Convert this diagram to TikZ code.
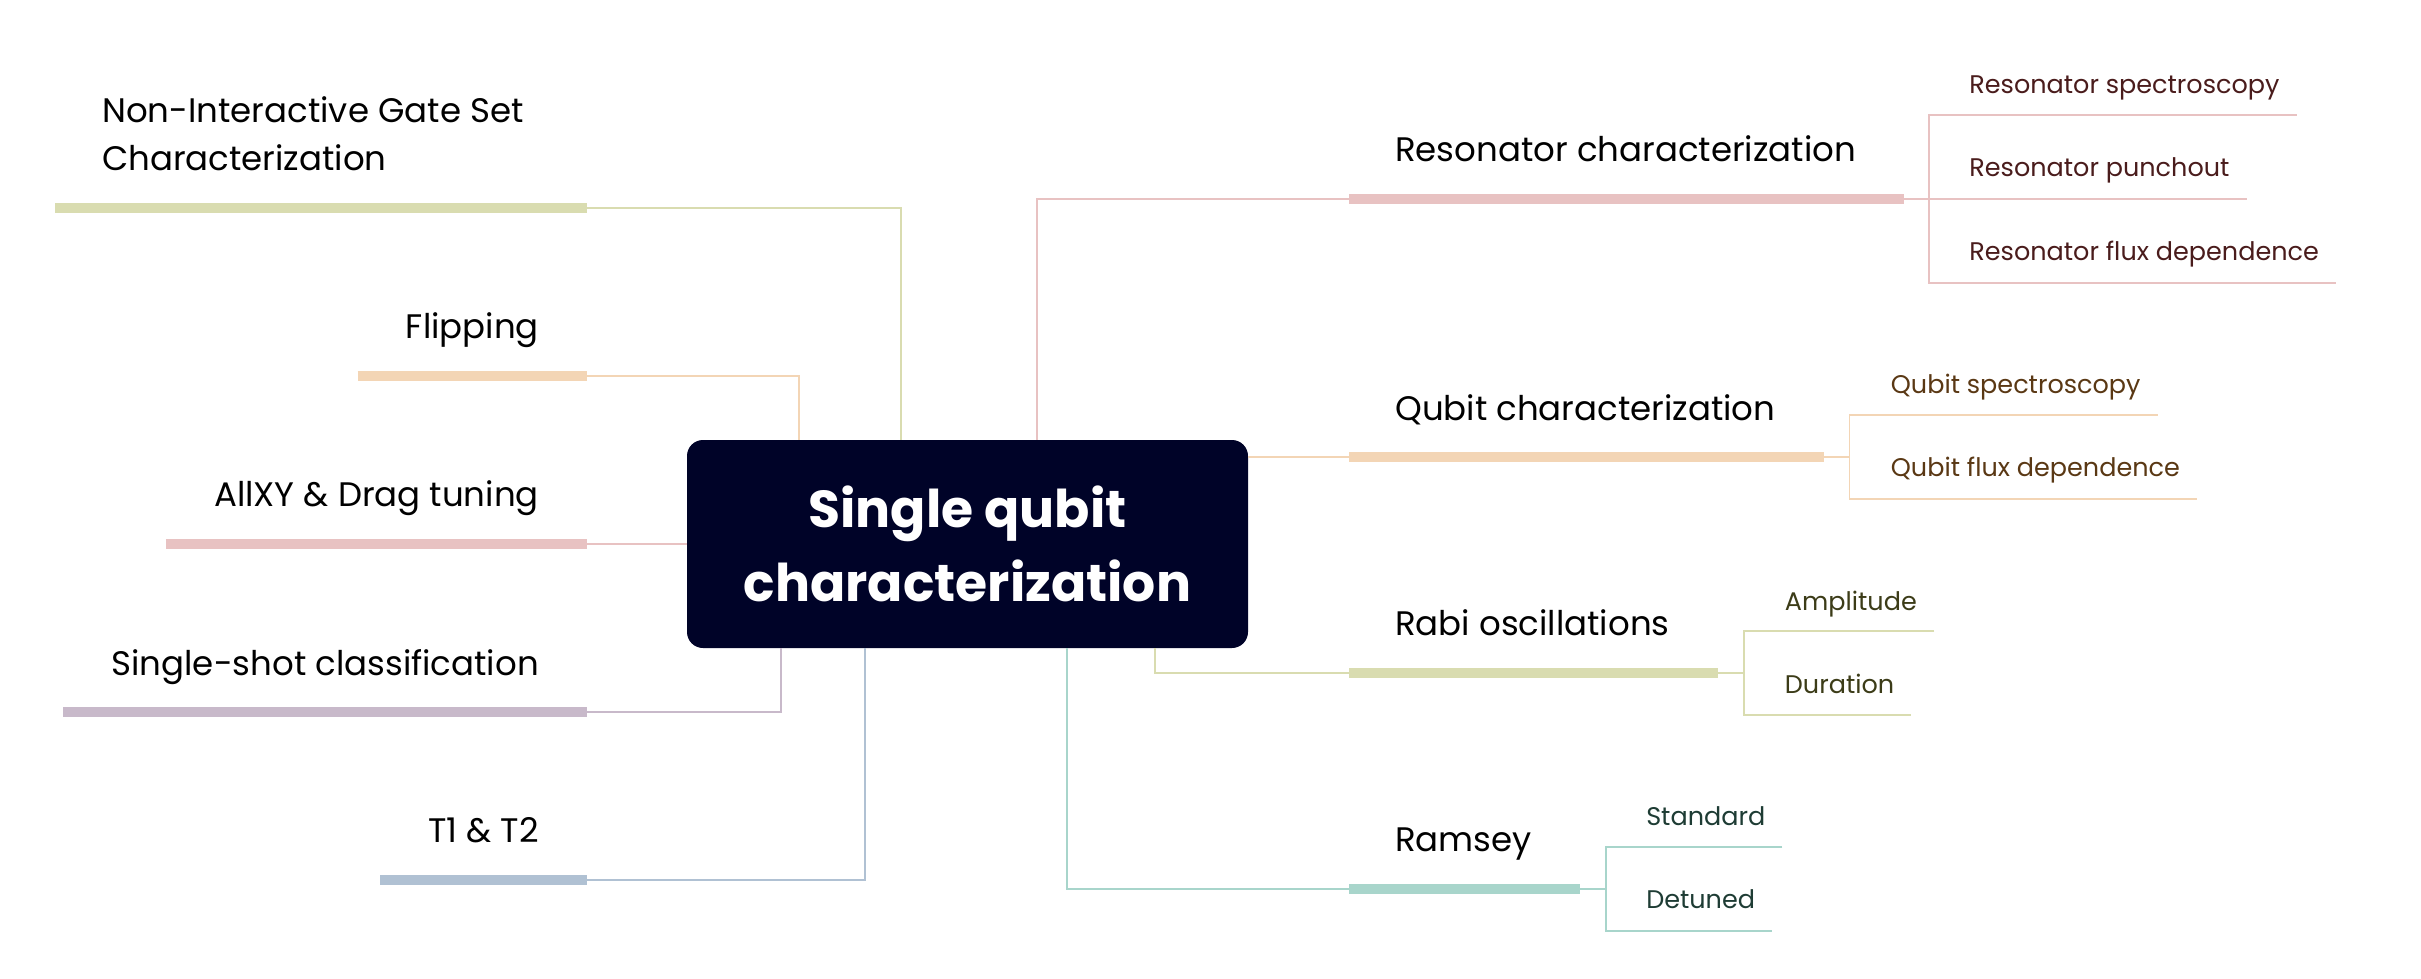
\documentclass[tikz,border=0pt]{standalone}
\usepackage{fontspec}
\setmainfont{Poppins}
\usetikzlibrary{calc}
\definecolor{cgreen}{HTML}{D9DCB0}
\definecolor{cpeach}{HTML}{F3D5B5}
\definecolor{cpink}{HTML}{E8C2C2}
\definecolor{cpurple}{HTML}{C8B9CA}
\definecolor{cblue}{HTML}{B0C1D3}
\definecolor{cteal}{HTML}{A8D5CB}
\definecolor{navy}{HTML}{000328}
\definecolor{tpink}{HTML}{4A1C1C}
\definecolor{tpeach}{HTML}{5A3814}
\definecolor{tgreen}{HTML}{3C3C18}
\definecolor{tteal}{HTML}{1E3C34}
\begin{document}
\begin{tikzpicture}[x=1pt,y=-1pt,
  branch/.style={font=\fontsize{34}{48}\selectfont, inner sep=0pt, text=black},
  leaf/.style={font=\fontsize{25.5}{28}\selectfont, inner sep=0pt, anchor=base west},
  bar/.style={line width=9.5pt, line cap=butt},
  conn/.style={line width=1.6pt},
  centre/.style={fill=navy, rounded corners=16pt, minimum width=561pt, minimum height=208pt,
    text=white, font=\bfseries\fontsize{52}{74}\selectfont, align=center, inner sep=0pt}]
\useasboundingbox (0,0) rectangle (2421,979);
\fill[white] (0,0) rectangle (2421,979);

% centre
\node[centre] (c) at (967.5,544) {Single qubit\\characterization};

% ---------- left side ----------
\node[branch, anchor=base west, align=left] (nig) at (102,170.7) {Non-Interactive Gate Set\\Characterization};
\coordinate (nigE) at (587,208);
\draw[bar,cgreen] (55,208) -- (nigE);
\draw[conn,cgreen] (nigE) -| (c.north -| 901,0);

\node[branch, anchor=base east] (flip) at (539,338) {Flipping};
\coordinate (flipE) at (587,376);
\draw[bar,cpeach] ([xshift=-48pt]flip.west |- flipE) -- (flipE);
\draw[conn,cpeach] (flipE) -| (c.north -| 799,0);

\node[branch, anchor=base east] (allxy) at (539,506.7) {AllXY \& Drag tuning};
\coordinate (allE) at (587,544);
\draw[bar,cpink] ([xshift=-48pt]allxy.west |- allE) -- (allE);
\draw[conn,cpink] (allE) -- (c.west |- allE);

\node[branch, anchor=base east] (ss) at (539,675) {Single-shot classification};
\coordinate (ssE) at (587,712);
\draw[bar,cpurple] ([xshift=-48pt]ss.west |- ssE) -- (ssE);
\draw[conn,cpurple] (ssE) -| (c.south -| 781,0);

\node[branch, anchor=base east] (t12) at (539,842.7) {T1 \& T2};
\coordinate (t12E) at (587,880);
\draw[bar,cblue] ([xshift=-48pt]t12.west |- t12E) -- (t12E);
\draw[conn,cblue] (t12E) -| (c.south -| 865,0);

% ---------- right side ----------
% Resonator
\node[branch, anchor=base west] (res) at (1395,161.7) {Resonator characterization};
\coordinate (resW) at (1349,199);
\coordinate (resE) at ([xshift=48pt]res.east |- resW);
\coordinate (resJ) at ([xshift=25pt]resE);
\draw[conn,cpink] (c.north -| 1037,0) |- (resW);
\draw[bar,cpink] (resW) -- (resE);
\draw[conn,cpink] (resE) -- (resJ);
\node[leaf, text=tpink] (r1) at ([xshift=40pt]resJ |- 0,93.3) {Resonator spectroscopy};
\node[leaf, text=tpink] (r2) at ([xshift=40pt]resJ |- 0,176.7) {Resonator punchout};
\node[leaf, text=tpink] (r3) at ([xshift=40pt]resJ |- 0,260) {Resonator flux dependence};
\draw[conn,cpink] ([xshift=17pt]r1.east |- 0,115) -| (resJ |- 0,283) -- ([xshift=17pt]r3.east |- 0,283);
\draw[conn,cpink] (resJ) -- ([xshift=17pt]r2.east |- resJ);

% Qubit
\node[branch, anchor=base west] (qb) at (1395,420) {Qubit characterization};
\coordinate (qbW) at (1349,457);
\coordinate (qbE) at ([xshift=48pt]qb.east |- qbW);
\coordinate (qbJ) at ([xshift=26pt]qbE);
\draw[conn,cpeach] (c.east |- qbW) -- (qbW);
\draw[bar,cpeach] (qbW) -- (qbE);
\draw[conn,cpeach] (qbE) -- (qbJ);
\node[leaf, text=tpeach] (q1) at ([xshift=41pt]qbJ |- 0,393) {Qubit spectroscopy};
\node[leaf, text=tpeach] (q2) at ([xshift=41pt]qbJ |- 0,476.7) {Qubit flux dependence};
\draw[conn,cpeach] ([xshift=17pt]q1.east |- 0,415) -| (qbJ |- 0,499) -- ([xshift=17pt]q2.east |- 0,499);

% Rabi
\node[branch, anchor=base west] (rabi) at (1395,635) {Rabi oscillations};
\coordinate (rabiW) at (1349,673);
\coordinate (rabiE) at ([xshift=48pt]rabi.east |- rabiW);
\coordinate (rabiJ) at ([xshift=26pt]rabiE);
\draw[conn,cgreen] (c.south -| 1155,0) |- (rabiW);
\draw[bar,cgreen] (rabiW) -- (rabiE);
\draw[conn,cgreen] (rabiE) -- (rabiJ);
\node[leaf, text=tgreen] (a1) at ([xshift=41pt]rabiJ |- 0,610) {Amplitude};
\node[leaf, text=tgreen] (a2) at ([xshift=41pt]rabiJ |- 0,693) {Duration};
\draw[conn,cgreen] ([xshift=17pt]a1.east |- 0,631) -| (rabiJ |- 0,715) -- ([xshift=17pt]a2.east |- 0,715);

% Ramsey
\node[branch, anchor=base west] (ram) at (1395,851.7) {Ramsey};
\coordinate (ramW) at (1349,889);
\coordinate (ramE) at ([xshift=48pt]ram.east |- ramW);
\coordinate (ramJ) at ([xshift=26pt]ramE);
\draw[conn,cteal] (c.south -| 1067,0) |- (ramW);
\draw[bar,cteal] (ramW) -- (ramE);
\draw[conn,cteal] (ramE) -- (ramJ);
\node[leaf, text=tteal] (s1) at ([xshift=40pt]ramJ |- 0,825) {Standard};
\node[leaf, text=tteal] (s2) at ([xshift=40pt]ramJ |- 0,908) {Detuned};
\draw[conn,cteal] ([xshift=17pt]s1.east |- 0,847) -| (ramJ |- 0,931) -- ([xshift=17pt]s2.east |- 0,931);
\end{tikzpicture}
\end{document}
